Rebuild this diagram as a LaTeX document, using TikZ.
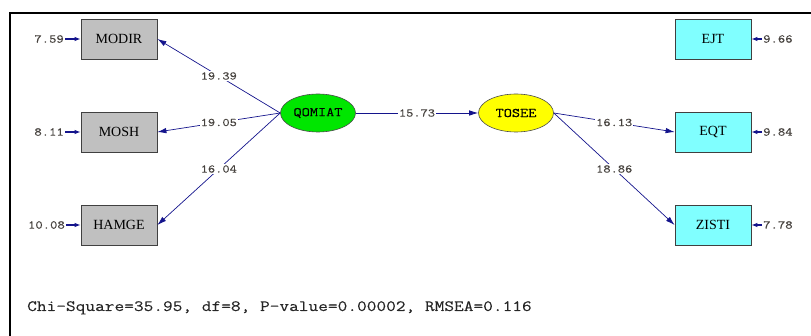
\documentclass[tikz,border=0pt]{standalone}
\usepackage{fontspec}
\setmainfont{Liberation Serif}
\newfontfamily\courlike[FakeStretch=1.2,FakeBold=0.25]{Latin Modern Mono}
\usetikzlibrary{arrows.meta}
\usetikzlibrary{positioning}
\usetikzlibrary{shapes.geometric}
\definecolor{navyline}{RGB}{20,20,140}
\definecolor{numgray}{RGB}{70,66,62}
\definecolor{boxgray}{RGB}{192,192,192}
\definecolor{boxcyan}{RGB}{128,255,255}
\definecolor{latgreen}{RGB}{0,230,0}
\definecolor{latyellow}{RGB}{255,255,0}
\tikzset{
  obs/.style={draw=black!75, line width=0.8pt, minimum width=76pt, minimum height=40pt,
    inner sep=0pt, font=\fontsize{14}{14}\selectfont},
  latent/.style={ellipse, draw=black!70, line width=0.6pt, minimum width=75pt,
    minimum height=38pt, inner sep=0pt, font=\courlike\fontsize{13.2}{13.2}\selectfont},
  path/.style={draw=navyline, line width=0.7pt, -{Latex[length=9pt,width=5.5pt]}},
  err/.style={draw=navyline, line width=1.1pt, -{Latex[length=6pt,width=4.5pt]}},
  coef/.style={fill=white, inner sep=1pt, text=numgray, font=\courlike\fontsize{11.7}{11.7}\selectfont},
  errlabel/.style={inner sep=1pt, text=numgray, font=\courlike\fontsize{11.9}{11.9}\selectfont}
}
\begin{document}
\begin{tikzpicture}[x=1pt,y=-1pt]
\useasboundingbox (0,0) rectangle (811,336);
\draw[line width=2pt] (10,336) -- (10,13) -- (811,13);

% observed variables, left
\node[obs, fill=boxgray] (modir) at (119,39) {MODIR};
\node[obs, fill=boxgray] (mosh) at (119,132) {MOSH};
\node[obs, fill=boxgray] (hamge) at (119,225) {HAMGE};
% observed variables, right
\node[obs, fill=boxcyan] (ejt) at (713,39) {EJT};
\node[obs, fill=boxcyan] (eqt) at (713,132) {EQT};
\node[obs, fill=boxcyan] (zisti) at (713,225) {ZISTI};

% latent variables
\node[latent, fill=latgreen] (qomiat) at (318,113) {QOMIAT};
\node[latent, fill=latyellow] (tosee) at (516,113) {TOSEE};

% error variances
\node[errlabel, anchor=east] (e_modir) at (65,39) {7.59};
\node[errlabel, anchor=east] (e_mosh) at (65,132) {8.11};
\node[errlabel, anchor=east] (e_hamge) at (66,225) {10.08};
\node[errlabel, anchor=west] (e_ejt) at (762,39) {9.66};
\node[errlabel, anchor=west] (e_eqt) at (762,132) {9.84};
\node[errlabel, anchor=west] (e_zisti) at (762,225) {7.78};
\draw[err] (e_modir) -- (modir);
\draw[err] (e_mosh) -- (mosh);
\draw[err] (e_hamge) -- (hamge);
\draw[err] (e_ejt) -- (ejt);
\draw[err] (e_eqt) -- (eqt);
\draw[err] (e_zisti) -- (zisti);

% paths
\draw[path] (qomiat.west) -- node[coef] {19.39} (modir.east);
\draw[path] (qomiat.west) -- node[coef] {19.05} (mosh.east);
\draw[path] (qomiat.west) -- node[coef] {16.04} (hamge.east);
\draw[path] (qomiat.east) -- node[coef] {15.73} (tosee.west);
\draw[path] (tosee.east) -- node[coef] {16.13} (eqt.west);
\draw[path] (tosee.east) -- node[coef] {18.86} (zisti.west);

% fit statistics
\node[anchor=base west, inner sep=0pt, font=\courlike\fontsize{15.7}{15.7}\selectfont, text=black!85] (fit) at (27,311)
  {Chi-Square=35.95, df=8, P-value=0.00002, RMSEA=0.116};
\end{tikzpicture}
\end{document}
